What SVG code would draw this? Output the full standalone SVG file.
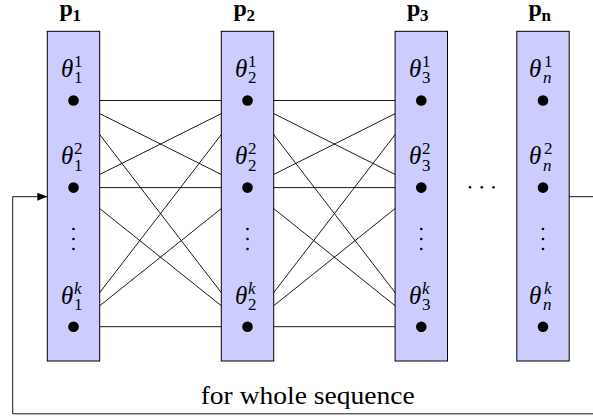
<svg xmlns="http://www.w3.org/2000/svg" width="593" height="416" viewBox="0 0 593 416" font-family="Liberation Serif, DejaVu Serif, serif">
<defs>
<style>
.col{fill:#ccccff;stroke:#000;stroke-width:1}
.dot{fill:#000}
.sd{fill:#000}
.edge{stroke:#000;stroke-width:0.9;fill:none}
.th{font-style:italic;font-size:25px}
.sc{font-size:17px}
.it{font-style:italic}
.hd{font-weight:bold;font-size:24px}
.hs{font-weight:bold;font-size:17px}
.lbl{font-size:25px}
</style>
<marker id="arr" viewBox="0 0 10 8" refX="10" refY="4" markerWidth="10" markerHeight="8" markerUnits="userSpaceOnUse" orient="auto">
<path d="M0,0 L10,4 L0,8 Z" fill="#000"/>
</marker>
</defs>

<g id="connectors">
<path class="edge" d="M73.5,100.5 L247.5,100.5 M73.5,100.5 L247.5,187.6 M73.5,100.5 L247.5,326.7
M73.5,187.6 L247.5,100.5 M73.5,187.6 L247.5,187.6 M73.5,187.6 L247.5,326.7
M73.5,326.7 L247.5,100.5 M73.5,326.7 L247.5,187.6 M73.5,326.7 L247.5,326.7
M247.5,100.5 L421.3,100.5 M247.5,100.5 L421.3,187.6 M247.5,100.5 L421.3,326.7
M247.5,187.6 L421.3,100.5 M247.5,187.6 L421.3,187.6 M247.5,187.6 L421.3,326.7
M247.5,326.7 L421.3,100.5 M247.5,326.7 L421.3,187.6 M247.5,326.7 L421.3,326.7"/>
</g>

<g id="col1">
<rect class="col" x="47.3" y="31.3" width="52.4" height="329.7"/>
<text class="hd" x="59.5" y="16">p</text><text class="hs" x="72.5" y="20.7">1</text>
<text class="th" x="61" y="76.5">θ</text><text class="sc" x="74" y="66.5">1</text><text class="sc" x="74" y="83.2">1</text>
<text class="th" x="61" y="164">θ</text><text class="sc" x="74" y="154">2</text><text class="sc" x="74" y="170.7">1</text>
<text class="th" x="61" y="303.5">θ</text><text class="sc it" x="74" y="293.5">k</text><text class="sc" x="74" y="310.2">1</text>
<circle class="dot" cx="73.5" cy="100.5" r="5.3"/>
<circle class="dot" cx="73.5" cy="187.6" r="5.3"/>
<circle class="dot" cx="73.5" cy="326.7" r="5.3"/>
<circle class="sd" cx="73.5" cy="229" r="1.3"/><circle class="sd" cx="73.5" cy="239" r="1.3"/><circle class="sd" cx="73.5" cy="249" r="1.3"/>
</g>

<g id="col2">
<rect class="col" x="221.3" y="31.3" width="52.4" height="329.7"/>
<text class="hd" x="233.5" y="16">p</text><text class="hs" x="246.5" y="20.7">2</text>
<text class="th" x="235" y="76.5">θ</text><text class="sc" x="248" y="66.5">1</text><text class="sc" x="248" y="83.2">2</text>
<text class="th" x="235" y="164">θ</text><text class="sc" x="248" y="154">2</text><text class="sc" x="248" y="170.7">2</text>
<text class="th" x="235" y="303.5">θ</text><text class="sc it" x="248" y="293.5">k</text><text class="sc" x="248" y="310.2">2</text>
<circle class="dot" cx="247.5" cy="100.5" r="5.3"/>
<circle class="dot" cx="247.5" cy="187.6" r="5.3"/>
<circle class="dot" cx="247.5" cy="326.7" r="5.3"/>
<circle class="sd" cx="247.5" cy="229" r="1.3"/><circle class="sd" cx="247.5" cy="239" r="1.3"/><circle class="sd" cx="247.5" cy="249" r="1.3"/>
</g>

<g id="col3">
<rect class="col" x="395.1" y="31.3" width="52.4" height="329.7"/>
<text class="hd" x="407" y="16">p</text><text class="hs" x="420" y="20.7">3</text>
<text class="th" x="409" y="76.5">θ</text><text class="sc" x="422" y="66.5">1</text><text class="sc" x="422" y="83.2">3</text>
<text class="th" x="409" y="164">θ</text><text class="sc" x="422" y="154">2</text><text class="sc" x="422" y="170.7">3</text>
<text class="th" x="409" y="303.5">θ</text><text class="sc it" x="422" y="293.5">k</text><text class="sc" x="422" y="310.2">3</text>
<circle class="dot" cx="421.3" cy="100.5" r="5.3"/>
<circle class="dot" cx="421.3" cy="187.6" r="5.3"/>
<circle class="dot" cx="421.3" cy="326.7" r="5.3"/>
<circle class="sd" cx="421.3" cy="229" r="1.3"/><circle class="sd" cx="421.3" cy="239" r="1.3"/><circle class="sd" cx="421.3" cy="249" r="1.3"/>
</g>

<g id="hdots">
<circle class="sd" cx="470" cy="187.3" r="1.3"/><circle class="sd" cx="481.8" cy="187.3" r="1.3"/><circle class="sd" cx="493.6" cy="187.3" r="1.3"/>
</g>

<g id="coln">
<rect class="col" x="516.8" y="31.3" width="52.4" height="329.7"/>
<text class="hd" x="528.5" y="16">p</text><text class="hs" x="541.5" y="20.7">n</text>
<text class="th" x="529" y="76.5">θ</text><text class="sc" x="544" y="66.5">1</text><text class="sc it" x="543" y="83.2">n</text>
<text class="th" x="529" y="164">θ</text><text class="sc" x="544" y="154">2</text><text class="sc it" x="543" y="170.7">n</text>
<text class="th" x="529" y="303.5">θ</text><text class="sc it" x="544" y="293.5">k</text><text class="sc it" x="543" y="310.2">n</text>
<circle class="dot" cx="543" cy="100.5" r="5.3"/>
<circle class="dot" cx="543" cy="187.6" r="5.3"/>
<circle class="dot" cx="543" cy="326.7" r="5.3"/>
<circle class="sd" cx="543" cy="229" r="1.3"/><circle class="sd" cx="543" cy="239" r="1.3"/><circle class="sd" cx="543" cy="249" r="1.3"/>
</g>

<g id="feedback">
<path class="edge" d="M569.2,196.7 H600 V413.8 H12.7 V196.7 H47.3" marker-end="url(#arr)"/>
<text class="lbl" x="200.7" y="404" textLength="214" lengthAdjust="spacingAndGlyphs">for whole sequence</text>
</g>
</svg>
